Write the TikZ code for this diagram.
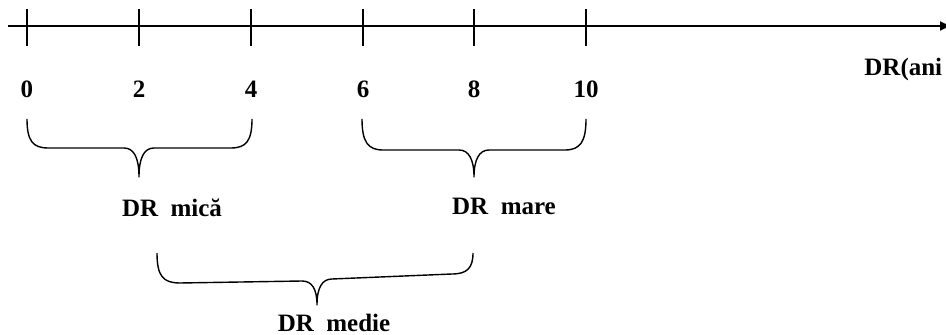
\documentclass[tikz,border=0pt]{standalone}
\usepackage{fontspec}
\setmainfont{Liberation Serif}
\usetikzlibrary{arrows.meta}

\begin{document}
\begin{tikzpicture}[x=0.5pt, y=-0.5pt,
        every node/.style={font=\fontsize{12.5}{14}\selectfont\bfseries, inner sep=0pt},
        acolada/.style={line width=0.7pt, line join=round}]
      \useasboundingbox (0,0) rectangle (946,335);
      % axa timpului
      \draw[line width=0.8pt, -{Latex[length=6pt,width=5pt]}] (8,26) -- (952,26);
      \foreach \v/\x in {0/27, 2/139, 4/251, 6/363, 8/474, 10/586} {
        \draw[line width=0.8pt] (\x,9) -- (\x,46);
        \node (n\v) at (\x,89) {\v};
      }
      \node[anchor=base west] (unit) at (864,76) {DR(ani )};
      % acolade
      \draw[acolada] (27,119) .. controls (27,141) and (33,148) .. (48,148)
        -- (124,148) .. controls (134,148) and (139,158) .. (139,177)
        .. controls (139,158) and (144,148) .. (154,148)
        -- (231,148) .. controls (246,148) and (252,141) .. (252,119);
      \draw[acolada] (362,119) .. controls (362,142) and (368,150) .. (383,150)
        -- (459,150) .. controls (469,150) and (474,160) .. (474,177)
        .. controls (474,160) and (479,150) .. (489,150)
        -- (565,150) .. controls (580,150) and (586,142) .. (586,119);
      \draw[acolada] (157,253) .. controls (157,276) and (163,283) .. (180,283)
        -- (302,281) .. controls (312,281) and (317,289) .. (317,305)
        .. controls (317,288) and (322,279) .. (332,279)
        -- (452,274) .. controls (467,274) and (473,268) .. (473,253);
      \node[anchor=base] (mica) at (172,217) {DR\ \ mică};
      \node[anchor=base] (mare) at (504,215) {DR\ \ mare};
      \node[anchor=base] (medie) at (334,332) {DR\ \ medie};
    \end{tikzpicture}
\end{document}
